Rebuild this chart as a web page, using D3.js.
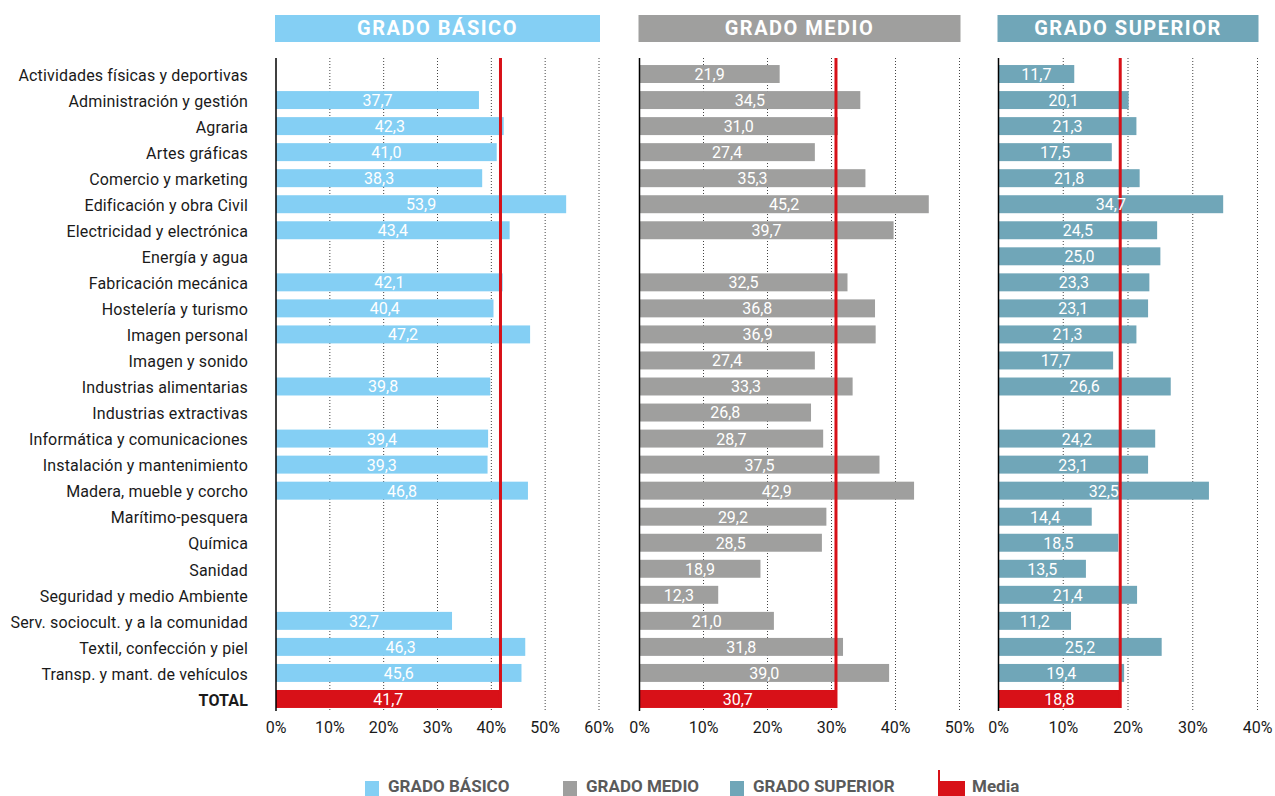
<!DOCTYPE html>
<html>
<head>
<meta charset="utf-8">
<script src="https://cdn.jsdelivr.net/npm/d3@7"></script>
<style>
  body { margin: 0; background: #fff; }
  svg { display: block; font-family: Roboto, "Liberation Sans", sans-serif; }
</style>
</head>
<body>
<div id="chart"></div>
<script>
// categorías (última fila = total)
const categories = [
  "Actividades físicas y deportivas", "Administración y gestión", "Agraria", "Artes gráficas",
  "Comercio y marketing", "Edificación y obra Civil", "Electricidad y electrónica", "Energía y agua",
  "Fabricación mecánica", "Hostelería y turismo", "Imagen personal", "Imagen y sonido",
  "Industrias alimentarias", "Industrias extractivas", "Informática y comunicaciones",
  "Instalación y mantenimiento", "Madera, mueble y corcho", "Marítimo-pesquera", "Química",
  "Sanidad", "Seguridad y medio Ambiente", "Serv. sociocult. y a la comunidad",
  "Textil, confección y piel", "Transp. y mant. de vehículos", "TOTAL"
];

const basico = [null, 37.7, 42.3, 41.0, 38.3, 53.9, 43.4, null, 42.1, 40.4, 47.2, null, 39.8, null,
  39.4, 39.3, 46.8, null, null, null, null, 32.7, 46.3, 45.6, 41.7];
const medio = [21.9, 34.5, 31.0, 27.4, 35.3, 45.2, 39.7, null, 32.5, 36.8, 36.9, 27.4, 33.3, 26.8,
  28.7, 37.5, 42.9, 29.2, 28.5, 18.9, 12.3, 21.0, 31.8, 39.0, 30.7];
const superior = [11.7, 20.1, 21.3, 17.5, 21.8, 34.7, 24.5, 25.0, 23.3, 23.1, 21.3, 17.7, 26.6, null,
  24.2, 23.1, 32.5, 14.4, 18.5, 13.5, 21.4, 11.2, 25.2, 19.4, 18.8];

const seriesNames = ["GRADO BÁSICO", "GRADO MEDIO", "GRADO SUPERIOR"];
const axisMax = [60, 50, 40];
const mediaLabel = "Media";

// estilos
const colors = ["#84cff4", "#9f9f9e", "#70a6b8"];
const red = "#d81118";
const width = 1275, height = 796;
const panelX = [[276, 599], [639.5, 959.5], [998.5, 1257.5]];
const plotTop = 58, plotBottom = 711;

const svg = d3.select("#chart").append("svg")
  .attr("width", width).attr("height", height);

const y = d3.scaleBand()
  .domain(categories)
  .range([61, 712])
  .paddingInner(0.31)
  .paddingOuter(0.155);

const fmt = v => d3.format(".1f")(v).replace(".", ",");
const totalName = categories[categories.length - 1];

// etiquetas de categorías
svg.append("g").selectAll("text")
  .data(categories)
  .enter().append("text")
  .attr("x", 248)
  .attr("y", d => y(d) + y.bandwidth() / 2)
  .attr("dy", "0.42em")
  .attr("text-anchor", "end")
  .style("font-size", "16px")
  .style("letter-spacing", "0.15px")
  .style("font-weight", d => d === totalName ? "bold" : "normal")
  .style("fill", "#1a1a1a")
  .text(d => d);

const allSeries = [basico, medio, superior];

allSeries.forEach(function (values, p) {
  const x = d3.scaleLinear().domain([0, axisMax[p]]).range(panelX[p]);
  const g = svg.append("g");
  const rows = categories.map((c, i) => ({ cat: c, value: values[i] }))
    .filter(d => d.value != null);
  const total = values[values.length - 1];

  // cabecera
  g.append("rect")
    .attr("x", panelX[p][0] - 1)
    .attr("y", 15)
    .attr("width", panelX[p][1] - panelX[p][0] + 2)
    .attr("height", 27)
    .attr("fill", colors[p]);
  g.append("text")
    .attr("x", (panelX[p][0] + panelX[p][1]) / 2)
    .attr("y", 35)
    .attr("text-anchor", "middle")
    .style("font-size", "20px")
    .style("font-weight", "bold")
    .style("letter-spacing", "1.5px")
    .style("fill", "#fff")
    .text(seriesNames[p]);

  // rejilla punteada
  const ticks = x.ticks(axisMax[p] / 10);
  g.selectAll(".grid")
    .data(ticks.filter(t => t > 0))
    .enter().append("line")
    .attr("x1", d => x(d)).attr("x2", d => x(d))
    .attr("y1", plotTop).attr("y2", plotBottom)
    .attr("stroke", "#444")
    .attr("stroke-width", 1)
    .attr("stroke-dasharray", "1,2");

  // etiquetas del eje
  g.selectAll(".tick")
    .data(ticks)
    .enter().append("text")
    .attr("x", d => x(d))
    .attr("y", 733)
    .attr("text-anchor", "middle")
    .style("font-size", "16px")
    .style("fill", "#1a1a1a")
    .text(d => d + "%");

  // barras
  g.selectAll(".bar")
    .data(rows)
    .enter().append("rect")
    .attr("x", x(0))
    .attr("y", d => y(d.cat))
    .attr("width", d => x(d.value) - x(0))
    .attr("height", y.bandwidth())
    .attr("fill", d => d.cat === totalName ? red : colors[p]);

  // eje vertical
  g.append("line")
    .attr("x1", x(0)).attr("x2", x(0))
    .attr("y1", plotTop).attr("y2", plotBottom)
    .attr("stroke", "#000")
    .attr("stroke-width", 1.5);

  // línea de la media
  g.append("line")
    .attr("x1", x(total)).attr("x2", x(total))
    .attr("y1", plotTop)
    .attr("y2", y(totalName) + y.bandwidth())
    .attr("stroke", red)
    .attr("stroke-width", 3);

  // valores
  g.selectAll(".val")
    .data(rows)
    .enter().append("text")
    .attr("x", d => (x(0) + x(d.value)) / 2)
    .attr("y", d => y(d.cat) + y.bandwidth() / 2)
    .attr("dy", "0.37em")
    .attr("text-anchor", "middle")
    .style("font-size", "16px")
    .style("fill", "#fff")
    .text(d => fmt(d.value));
});

// leyenda
const legendX = [365, 563, 730];
const leg = svg.append("g");
seriesNames.forEach(function (name, i) {
  leg.append("rect")
    .attr("x", legendX[i]).attr("y", 781)
    .attr("width", 14).attr("height", 15)
    .attr("fill", colors[i]);
  leg.append("text")
    .attr("x", legendX[i] + 23).attr("y", 792)
    .style("font-size", "17px")
    .style("font-weight", "bold")
    .style("fill", "#5a5a5a")
    .text(name);
});
leg.append("rect")
  .attr("x", 938).attr("y", 781)
  .attr("width", 27).attr("height", 15)
  .attr("fill", red);
leg.append("line")
  .attr("x1", 939).attr("x2", 939)
  .attr("y1", 770).attr("y2", 781)
  .attr("stroke", red).attr("stroke-width", 2);
leg.append("text")
  .attr("x", 972).attr("y", 792)
  .style("font-size", "17px")
  .style("font-weight", "bold")
  .style("fill", "#5a5a5a")
  .text(mediaLabel);
</script>
</body>
</html>
